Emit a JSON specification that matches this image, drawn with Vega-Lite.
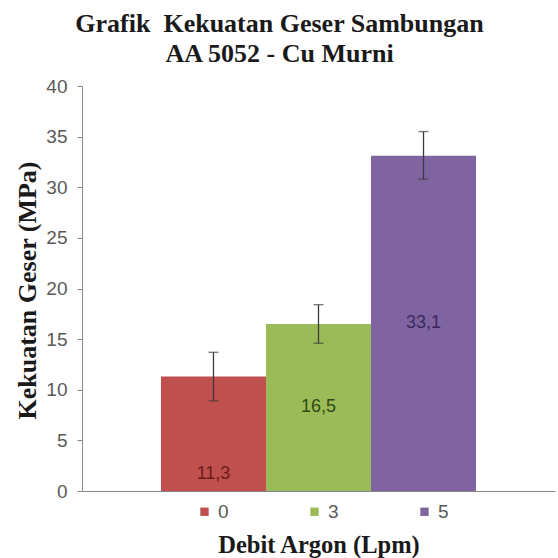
{
  "$schema": "https://vega.github.io/schema/vega-lite/v6.json",
  "width": 473,
  "height": 405,
  "autosize": {"type": "none"},
  "padding": {"left": 82, "top": 86, "right": 3, "bottom": 67},
  "background": "white",
  "title": {
    "text": ["Grafik\u00a0 Kekuatan Geser Sambungan", "AA 5052 - Cu Murni"],
    "font": "Liberation Serif",
    "fontSize": 26,
    "fontWeight": "bold",
    "color": "#1a1a1a",
    "anchor": "middle",
    "dx": -39,
    "offset": 10,
    "lineHeight": 30
  },
  "data": {
    "values": [
      {"Debit": "0", "value": 11.3, "label": "11,3", "lo": 8.9, "hi": 13.7},
      {"Debit": "3", "value": 16.5, "label": "16,5", "lo": 14.6, "hi": 18.4},
      {"Debit": "5", "value": 33.1, "label": "33,1", "lo": 30.8, "hi": 35.5}
    ]
  },
  "config": {
    "view": {"stroke": null},
    "axis": {"labelFont": "Liberation Sans", "titleFont": "Liberation Serif"}
  },
  "encoding": {
    "x": {
      "field": "Debit",
      "type": "nominal",
      "sort": ["0", "3", "5"],
      "scale": {"paddingInner": 0, "paddingOuter": 0.752},
      "axis": {
        "title": "Debit Argon (Lpm)",
        "labels": false,
        "ticks": false,
        "domainColor": "#868686",
        "domainWidth": 1,
        "titleFontSize": 24.5,
        "titleFontWeight": "bold",
        "titleColor": "#1a1a1a",
        "titleY": 61,
        "titleBaseline": "alphabetic"
      }
    }
  },
  "layer": [
    {
      "mark": {"type": "bar"},
      "encoding": {
        "y": {
          "field": "value",
          "type": "quantitative",
          "scale": {"domain": [0, 40], "nice": false},
          "axis": {
            "title": "Kekuatan Geser (MPa)",
            "values": [0, 5, 10, 15, 20, 25, 30, 35, 40],
            "grid": false,
            "domainColor": "#868686",
            "tickColor": "#868686",
            "tickSize": 5,
            "labelFontSize": 19,
            "labelColor": "#595959",
            "labelPadding": 10,
            "titleFontSize": 26,
            "titleFontWeight": "bold",
            "titleColor": "#1a1a1a",
            "titleX": -55,
            "titleY": 204,
            "titleAngle": -90,
            "titleAlign": "center",
            "titleBaseline": "middle"
          }
        },
        "color": {
          "field": "Debit",
          "type": "nominal",
          "sort": ["0", "3", "5"],
          "scale": {"range": ["#C0504D", "#9BBB59", "#8064A2"]},
          "legend": {
            "title": null,
            "orient": "none",
            "direction": "horizontal",
            "columns": 3,
            "legendX": 113,
            "legendY": 416,
            "padding": 0,
            "symbolType": "square",
            "symbolSize": 70,
            "symbolStrokeWidth": 0,
            "labelFont": "Liberation Sans",
            "labelFontSize": 19,
            "labelColor": "#595959",
            "labelOffset": 4,
            "columnPadding": 76
          }
        }
      }
    },
    {
      "mark": {"type": "rule", "color": "#3a3a3a", "strokeWidth": 1.3},
      "encoding": {
        "y": {"field": "lo", "type": "quantitative"},
        "y2": {"field": "hi"}
      }
    },
    {
      "mark": {"type": "tick", "color": "#3a3a3a", "thickness": 1.3, "size": 10},
      "encoding": {"y": {"field": "lo", "type": "quantitative"}}
    },
    {
      "mark": {"type": "tick", "color": "#3a3a3a", "thickness": 1.3, "size": 10},
      "encoding": {"y": {"field": "hi", "type": "quantitative"}}
    },
    {
      "transform": [{"filter": "datum.Debit == '0'"}],
      "mark": {"type": "text", "font": "Liberation Sans", "fontSize": 18, "color": "#6b1d1b", "baseline": "alphabetic", "dy": -12},
      "encoding": {
        "y": {"datum": 0, "type": "quantitative"},
        "text": {"field": "label"}
      }
    },
    {
      "transform": [{"filter": "datum.Debit != '0'"}, {"calculate": "datum.value / 2", "as": "mid"}],
      "mark": {"type": "text", "font": "Liberation Sans", "fontSize": 18, "baseline": "middle"},
      "encoding": {
        "y": {"field": "mid", "type": "quantitative"},
        "text": {"field": "label"},
        "color": {"condition": {"test": "datum.Debit == '3'", "value": "#2f4a12"}, "value": "#3a2a5c"}
      }
    }
  ]
}
